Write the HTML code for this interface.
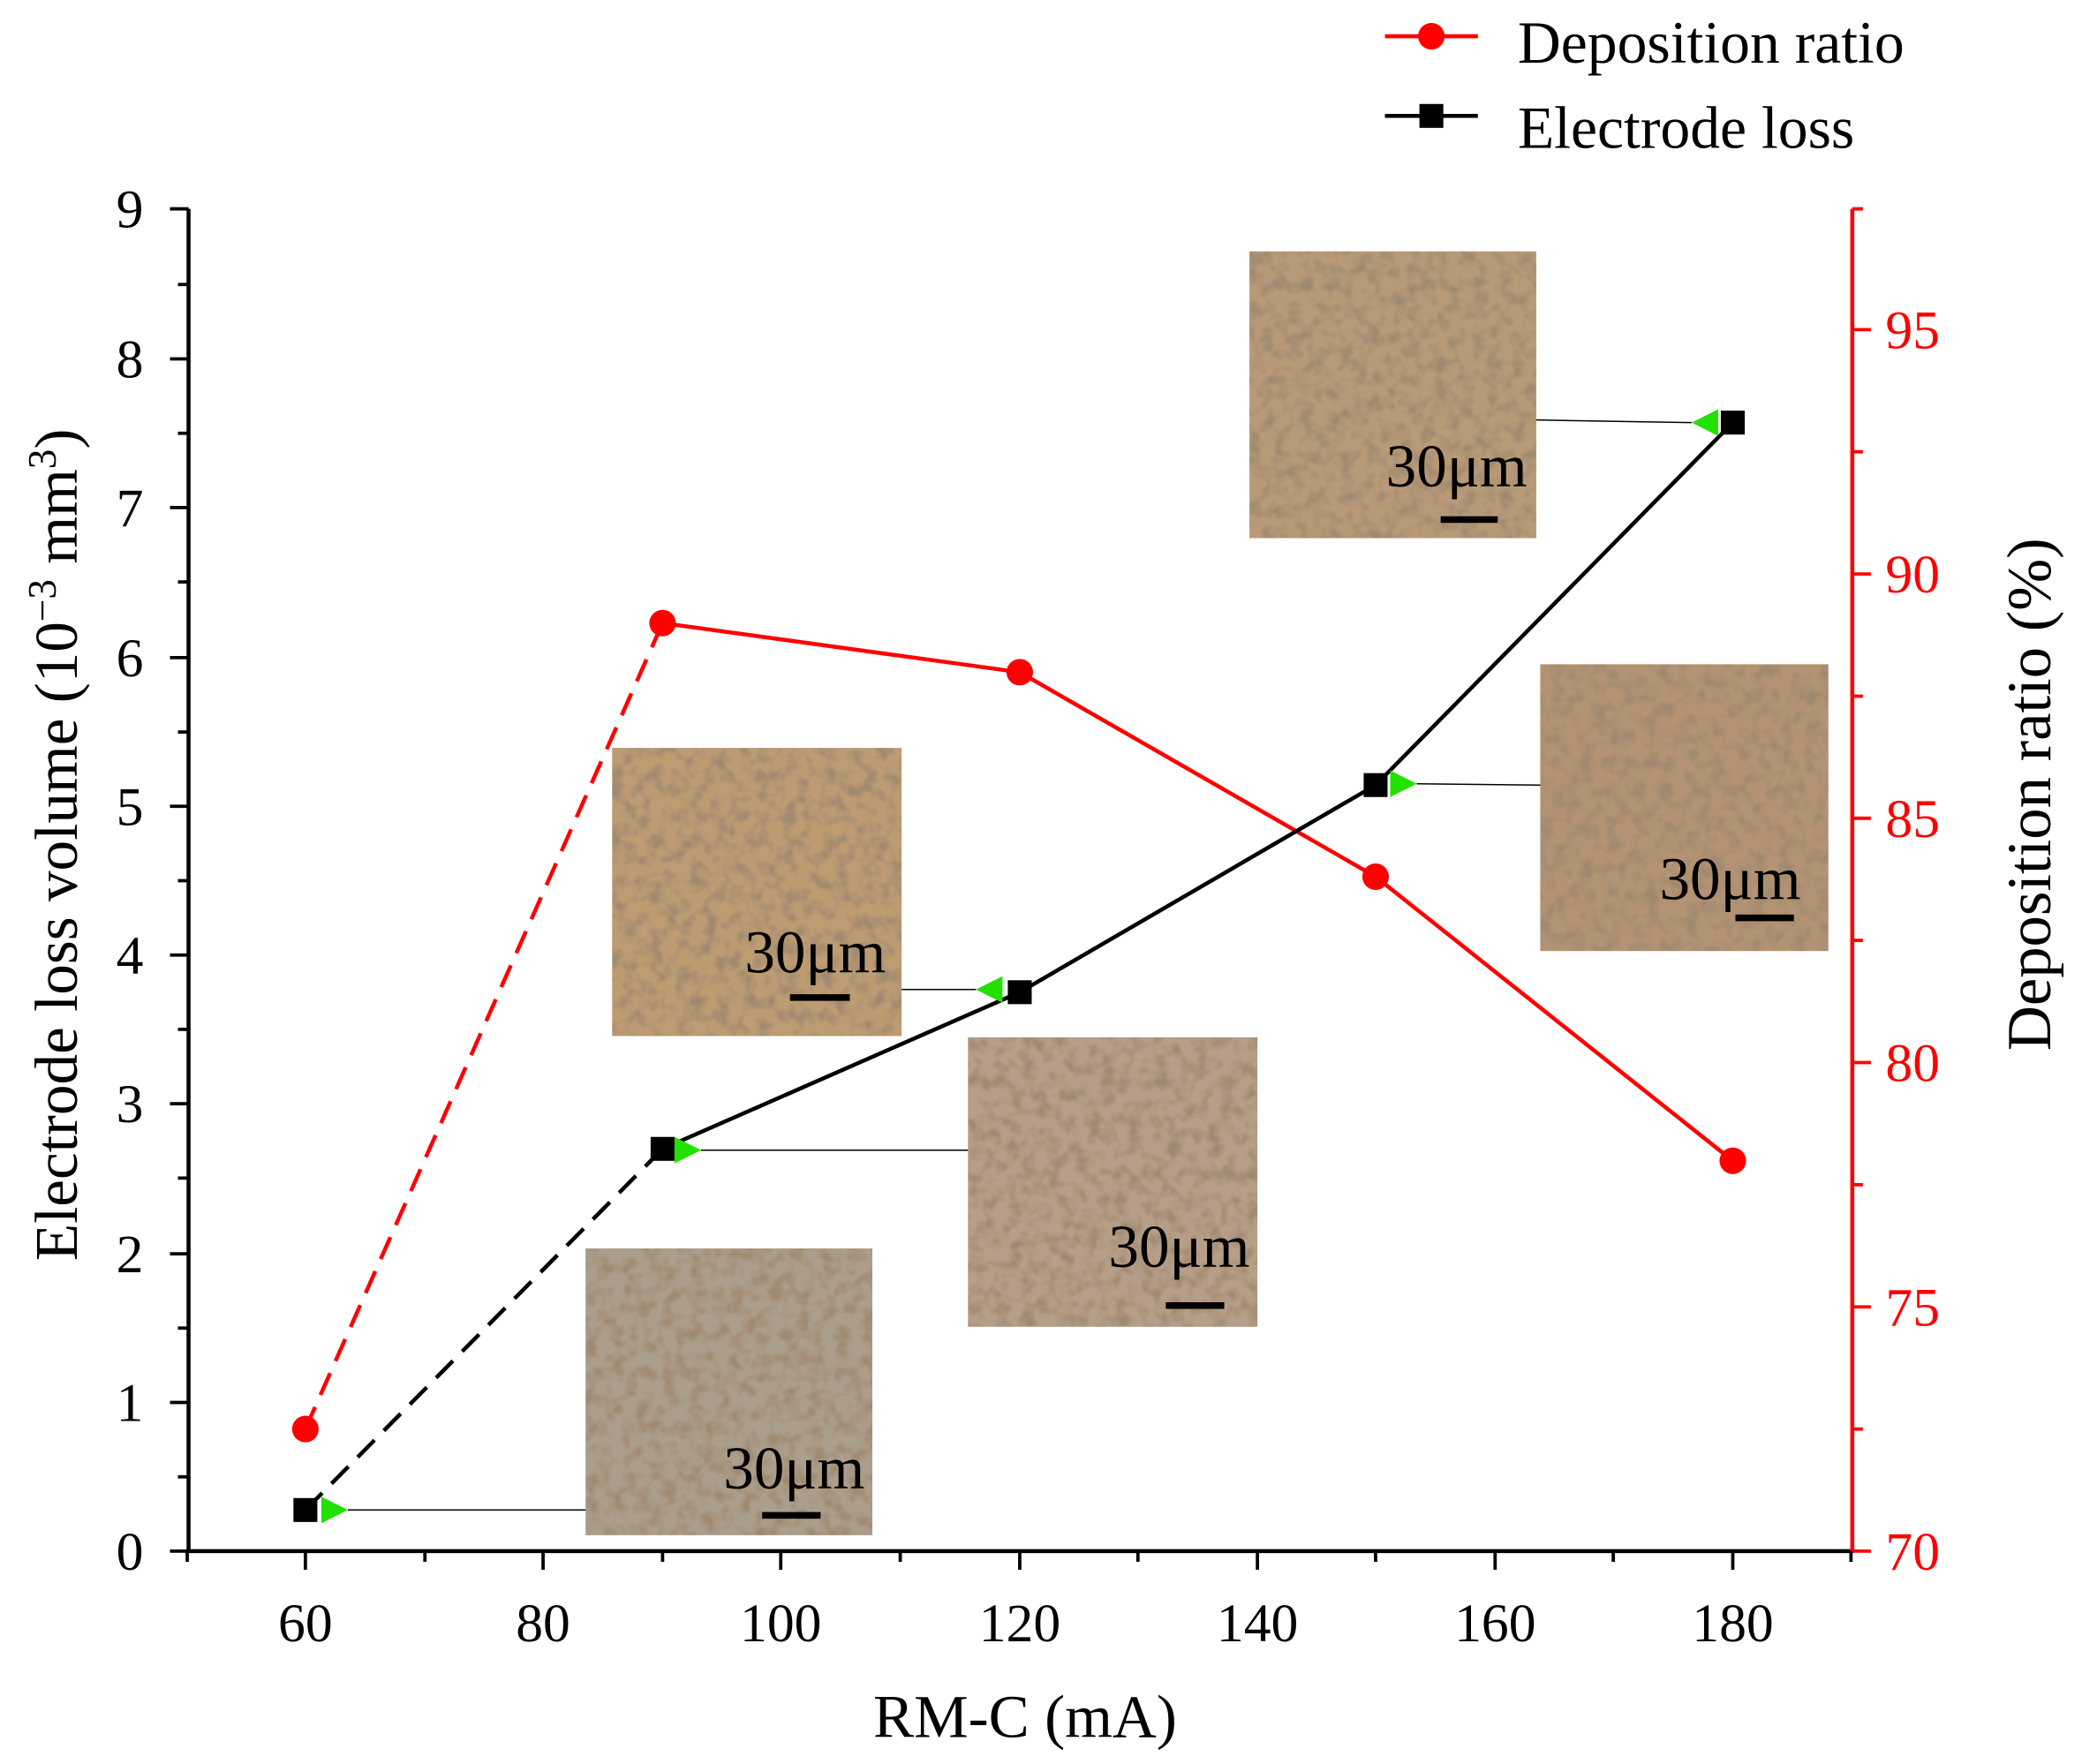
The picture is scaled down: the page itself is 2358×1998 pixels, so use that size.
<!DOCTYPE html>
<html><head><meta charset="utf-8"><style>html,body{margin:0;padding:0;background:#fff}svg{display:block}</style></head>
<body>
<svg xmlns="http://www.w3.org/2000/svg" width="2358" height="1998" viewBox="0 0 1568 1328" font-family="Liberation Serif, serif">
<defs>
<filter id="tex" x="0" y="0" width="100%" height="100%">
<feTurbulence type="fractalNoise" baseFrequency="0.1" numOctaves="2" seed="3" result="n"/>
<feColorMatrix in="n" type="matrix" values="0 0 0 0 0.35  0 0 0 0 0.25  0 0 0 0 0.16  0 0 0 2.6 -1.05" result="c"/>
<feComposite in="c" in2="SourceGraphic" operator="atop"/>
</filter>
</defs>
<rect width="1568" height="1328" fill="#fff"/>
<g filter="url(#tex)">
<rect x="941" y="189" width="216" height="216" fill="#b89a78"/>
<rect x="1160" y="500" width="217" height="216" fill="#b39373"/>
<rect x="461" y="563" width="218" height="217" fill="#bd9c72"/>
<rect x="729" y="781" width="218" height="218" fill="#b69e88"/>
<rect x="441" y="940" width="216" height="216" fill="#ab9e8c"/>
</g>
<g font-size="46" fill="#000">
<text x="1097" y="366" text-anchor="middle">30μm</text>
<text x="1303" y="677" text-anchor="middle">30μm</text>
<text x="614" y="732" text-anchor="middle">30μm</text>
<text x="888" y="954" text-anchor="middle">30μm</text>
<text x="598" y="1121" text-anchor="middle">30μm</text>
</g>
<g stroke="#000" stroke-width="5">
<line x1="1085" y1="391" x2="1128" y2="391"/>
<line x1="1307" y1="691" x2="1351" y2="691"/>
<line x1="595" y1="751" x2="640" y2="751"/>
<line x1="878" y1="983" x2="922" y2="983"/>
<line x1="574" y1="1141" x2="618" y2="1141"/>
</g>
<g stroke="#000" stroke-width="1">
<line x1="262" y1="1137" x2="441" y2="1137"/>
<line x1="528" y1="866" x2="729" y2="866"/>
<line x1="679" y1="745" x2="735" y2="745"/>
<line x1="1067" y1="590" x2="1160" y2="591"/>
<line x1="1157" y1="316" x2="1274" y2="318"/>
</g>
<g stroke="#000" stroke-width="3" fill="none">
<line x1="142" y1="157" x2="142" y2="1169"/>
<line x1="141" y1="1168" x2="1396" y2="1168"/>
</g>
<line x1="1395" y1="157" x2="1395" y2="1169" stroke="#f00" stroke-width="3"/>
<g stroke="#000" stroke-width="2.5">
<path d="M142 1168h-14M142 1056h-14M142 944h-14M142 831h-14M142 719h-14M142 607h-14M142 495h-14M142 382h-14M142 270h-14M142 157h-14"/>
<path d="M142 1112h-8M142 1000h-8M142 887h-8M142 775h-8M142 663h-8M142 551h-8M142 438h-8M142 326h-8M142 214h-8"/>
<path d="M230 1168v14M409 1168v14M588 1168v14M768 1168v14M947 1168v14M1126 1168v14M1305 1168v14"/>
<path d="M141 1168v8M320 1168v8M499 1168v8M678 1168v8M857 1168v8M1036 1168v8M1215 1168v8M1394 1168v8"/>
</g>
<g stroke="#f00" stroke-width="2.5">
<path d="M1395 1168h14M1395 984h14M1395 800h14M1395 616h14M1395 432h14M1395 248h14"/>
<path d="M1395 1076h8M1395 892h8M1395 708h8M1395 524h8M1395 340h8M1395 157h8"/>
</g>
<g font-size="41" text-anchor="end" fill="#000">
<text x="108" y="1182">0</text><text x="108" y="1070">1</text><text x="108" y="958">2</text><text x="108" y="845">3</text><text x="108" y="733">4</text><text x="108" y="621">5</text><text x="108" y="509">6</text><text x="108" y="396">7</text><text x="108" y="284">8</text><text x="108" y="171">9</text>
</g>
<g font-size="41" text-anchor="middle" fill="#000">
<text x="230" y="1236">60</text><text x="409" y="1236">80</text><text x="588" y="1236">100</text><text x="768" y="1236">120</text><text x="947" y="1236">140</text><text x="1126" y="1236">160</text><text x="1305" y="1236">180</text>
</g>
<g font-size="41" fill="#f00">
<text x="1420" y="1182">70</text><text x="1420" y="998">75</text><text x="1420" y="814">80</text><text x="1420" y="630">85</text><text x="1420" y="446">90</text><text x="1420" y="262">95</text>
</g>
<text x="772" y="1308" font-size="46" text-anchor="middle">RM-C (mA)</text>
<text transform="translate(58 636) rotate(-90)" font-size="46" text-anchor="middle">Electrode loss volume (10<tspan font-size="30" dy="-16">−3</tspan><tspan dy="16"> mm</tspan><tspan font-size="30" dy="-16">3</tspan><tspan dy="16">)</tspan></text>
<text transform="translate(1544 598) rotate(-90)" font-size="47" text-anchor="middle">Deposition ratio (%)</text>
<g fill="none" stroke-width="3">
<path d="M230 1076L499 469" stroke="#f00" stroke-dasharray="18 10"/>
<path d="M499 469L768 506L1036 660L1305 874" stroke="#f00"/>
<path d="M230 1137L499 865" stroke="#000" stroke-dasharray="18 10"/>
<path d="M499 865L768 747L1036 591L1305 318" stroke="#000"/>
</g>
<g fill="#f00">
<circle cx="230" cy="1076" r="10"/><circle cx="499" cy="469" r="10"/><circle cx="768" cy="506" r="10"/><circle cx="1036" cy="660" r="10"/><circle cx="1305" cy="874" r="10"/>
</g>
<g fill="#000">
<rect x="221" y="1128" width="18" height="18"/><rect x="490" y="856" width="18" height="18"/><rect x="759" y="738" width="18" height="18"/><rect x="1027" y="582" width="18" height="18"/><rect x="1296" y="309" width="18" height="18"/>
</g>
<g fill="#22e000">
<path d="M242 1127L262 1137L242 1147Z"/>
<path d="M508 856L528 866L508 876Z"/>
<path d="M755 735L735 745L755 755Z"/>
<path d="M1047 580L1067 590L1047 600Z"/>
<path d="M1294 308L1274 318L1294 328Z"/>
</g>
<line x1="1043" y1="27" x2="1113" y2="27" stroke="#f00" stroke-width="3"/>
<circle cx="1078" cy="27" r="10" fill="#f00"/>
<line x1="1043" y1="87" x2="1113" y2="87" stroke="#000" stroke-width="3"/>
<rect x="1069" y="78" width="18" height="18" fill="#000"/>
<text x="1143" y="47" font-size="45">Deposition ratio</text>
<text x="1143" y="111" font-size="45">Electrode loss</text>
</svg>
</body></html>
